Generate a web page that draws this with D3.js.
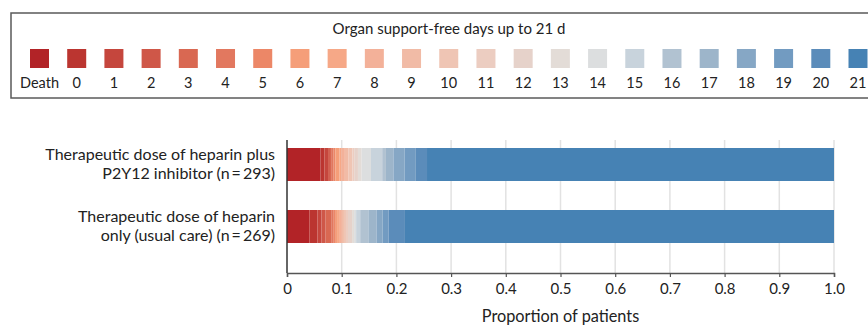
<!DOCTYPE html>
<html>
<head>
<meta charset="utf-8">
<script src="https://cdn.jsdelivr.net/npm/d3@7"></script>
<style>
  body { margin: 0; background: #fff; }
  text { font-family: Lato, "Open Sans", sans-serif; fill: #222; }
</style>
</head>
<body>
<div id="chart"></div>
<script>
// outcome categories (legend order)
const categories = ["Death", "0", "1", "2", "3", "4", "5", "6", "7", "8", "9", "10",
  "11", "12", "13", "14", "15", "16", "17", "18", "19", "20", "21"];

const groupLabels = [
  ["Therapeutic dose of heparin plus", "P2Y12 inhibitor (n\u2009=\u2009293)"],
  ["Therapeutic dose of heparin", "only (usual care) (n\u2009=\u2009269)"]
];
const groupN = [293, 269];

// patients per category
const countsP2Y12 = [18, 2, 2, 1, 1, 1, 1, 2, 1, 2, 2, 2, 1, 2, 2, 5, 6, 2, 4, 6, 6, 6, 218];
const countsUsual = [11, 4, 2, 2, 3, 1, 1, 1, 1, 1, 1, 1, 1, 2, 1, 1, 2, 4, 4, 3, 3, 8, 211];

const xTicks = [0, 0.1, 0.2, 0.3, 0.4, 0.5, 0.6, 0.7, 0.8, 0.9, 1.0];

const colors = ["#b22327", "#bb3530", "#c5463d", "#cf5748", "#d96852", "#e2785f",
  "#ec8767", "#f59e79", "#f6a887", "#f3b199", "#f1bba6", "#efc5b4", "#eccdc1",
  "#e6d2ca", "#e3dcd7", "#dcdedf", "#c8d3dc", "#b1c2d1", "#9db5ca", "#86a7c5",
  "#729bc1", "#5b8cba", "#4682b4"];

var width = 868, height = 325;

var svg = d3.select("#chart").append("svg")
  .attr("width", width)
  .attr("height", height);

// ---- legend ----
var color = d3.scaleOrdinal(categories, colors);
var lx = d3.scalePoint(categories, [39.5, 858]);

svg.append("rect")
  .attr("x", 11).attr("y", 13)
  .attr("width", 880).attr("height", 85)
  .attr("fill", "none")
  .attr("stroke", "#5a5a5a")
  .attr("stroke-width", 1.5);

svg.append("text")
  .attr("x", 449).attr("y", 34)
  .attr("text-anchor", "middle")
  .attr("font-size", "15px")
  .text("Organ support-free days up to 21 d");

var leg = svg.append("g").selectAll("g")
  .data(categories)
  .enter().append("g")
  .attr("transform", d => "translate(" + lx(d) + ",0)");

leg.append("rect")
  .attr("x", -9.5).attr("y", 49)
  .attr("width", 19).attr("height", 19)
  .attr("fill", d => color(d));

leg.append("text")
  .attr("y", 88)
  .attr("text-anchor", "middle")
  .attr("font-size", "14.5px")
  .text(d => d);

// ---- bars ----
var rows = [countsP2Y12, countsUsual].map(function (counts, i) {
  var row = { group: i };
  categories.forEach((c, j) => { row[c] = counts[j] / groupN[i]; });
  return row;
});

var x = d3.scaleLinear().domain([0, 1]).range([287, 834]);
var y = d3.scaleBand().domain([0, 1]).range([133.5, 257.5])
  .paddingInner(0.468).paddingOuter(0.234);
var axisY = 273;

// gridlines
svg.append("g").selectAll("line")
  .data(xTicks.slice(1))
  .enter().append("line")
  .attr("x1", d => x(d)).attr("x2", d => x(d))
  .attr("y1", 140).attr("y2", axisY)
  .attr("stroke", "#e2e2e2")
  .attr("stroke-width", 1.5);

var series = d3.stack().keys(categories)(rows);

svg.append("g").selectAll("g")
  .data(series)
  .enter().append("g")
  .attr("fill", d => color(d.key))
  .selectAll("rect")
  .data(d => d)
  .enter().append("rect")
  .attr("x", d => x(d[0]))
  .attr("width", d => x(d[1]) - x(d[0]))
  .attr("y", d => y(d.data.group))
  .attr("height", y.bandwidth());

// category labels
var lab = svg.append("g").selectAll("text")
  .data(groupLabels)
  .enter().append("text")
  .attr("text-anchor", "end")
  .attr("font-size", "16px")
  .attr("transform", (d, i) => "translate(275," + (y(i) + y.bandwidth() / 2 + 4.5) + ")");
lab.append("tspan").attr("x", 0).attr("y", -9.5).text(d => d[0]);
lab.append("tspan").attr("x", 0).attr("y", 9.5).text(d => d[1]);

// left axis line
svg.append("line")
  .attr("x1", x(0)).attr("x2", x(0))
  .attr("y1", 140).attr("y2", axisY)
  .attr("stroke", "#333")
  .attr("stroke-width", 1.5);

// x axis
var xAxis = svg.append("g")
  .attr("transform", "translate(0," + axisY + ")")
  .call(d3.axisBottom(x).tickValues(xTicks)
    .tickFormat(d => d === 0 ? "0" : d3.format(".1f")(d))
    .tickSize(4).tickPadding(6));
xAxis.select(".domain").attr("stroke", "#555").attr("stroke-width", 1.5);
xAxis.selectAll(".tick line").attr("stroke", "#555").attr("stroke-width", 1.2);
xAxis.selectAll(".tick text")
  .attr("font-size", "15px")
  .attr("font-family", "Lato, sans-serif")
  .attr("fill", "#222");

svg.append("text")
  .attr("x", (x(0) + x(1)) / 2).attr("y", 322)
  .attr("text-anchor", "middle")
  .attr("font-size", "16.3px")
  .text("Proportion of patients");
</script>
</body>
</html>
